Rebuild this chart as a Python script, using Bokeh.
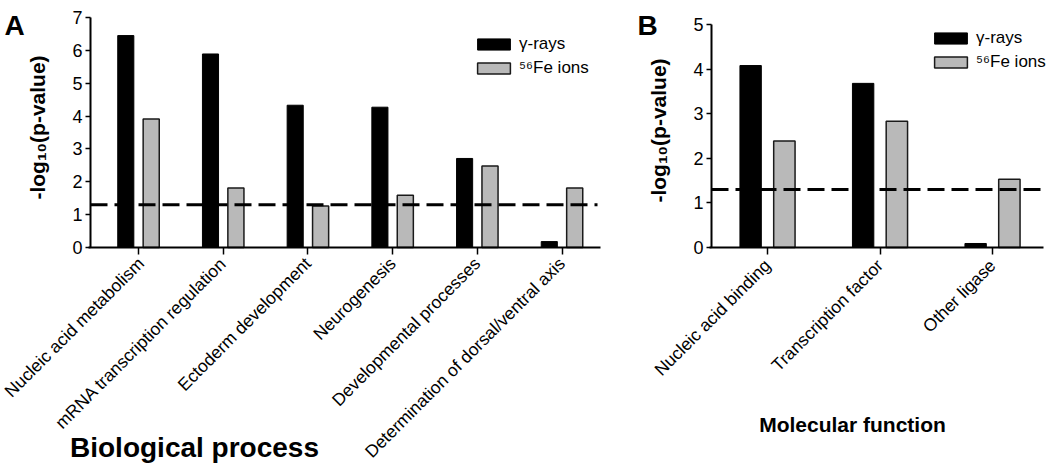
import math
from bokeh.plotting import figure
from bokeh.models import ColumnDataSource, Range1d, FixedTicker, Label, Legend, LegendItem
from bokeh.layouts import row
from bokeh.transform import dodge
from bokeh.embed import file_html
from bokeh.resources import INLINE

# ---------------- data ----------------
bp_categories = ["Nucleic acid metabolism", "mRNA transcription regulation",
                 "Ectoderm development", "Neurogenesis",
                 "Developmental processes", "Determination of dorsal/ventral axis"]
bp_gamma = [6.45, 5.89, 4.33, 4.27, 2.71, 0.18]
bp_fe = [3.91, 1.81, 1.26, 1.59, 2.48, 1.81]

mf_categories = ["Nucleic acid binding", "Transcription factor", "Other ligase"]
mf_gamma = [4.08, 3.68, 0.09]
mf_fe = [2.39, 2.83, 1.53]

series_labels = ["γ-rays", "⁵⁶Fe ions"]
threshold = 1.3          # -log10(0.05)
y_ticks_a = [0, 1, 2, 3, 4, 5, 6, 7]
y_ticks_b = [0, 1, 2, 3, 4, 5]
panel_letters = ["A", "B"]
x_titles = ["Biological process", "Molecular function"]
y_title = "-log₁₀(p-value)"

FONT = "Liberation Sans"
GRAY = "#b9b9b9"
H = 466


def make_panel(cats, gamma, fe, yticks, width, cat0_px, step_px, zero_px, top_px,
               axis_left_px, axis_right_px, legend_loc, letter, letter_px,
               xtitle, xtitle_px, xtitle_size, ytitle_px, tick_font, tick_standoff):
    unit_px = (zero_px - top_px) / (yticks[-1] - yticks[0])

    def X(px):
        return (px - cat0_px) / step_px

    def Y(py):
        return (zero_px - py) / unit_px

    idx = list(range(len(cats)))
    src = ColumnDataSource(dict(x=idx, gamma=gamma, fe=fe))
    p = figure(width=width, height=H, x_range=Range1d(X(0), X(width)),
               y_range=Range1d(Y(H), Y(0)),
               output_backend="svg", toolbar_location=None,
               min_border_left=0, min_border_right=0,
               min_border_top=0, min_border_bottom=0)
    p.outline_line_color = None
    p.grid.visible = False
    p.background_fill_color = "white"
    p.border_fill_color = "white"

    r1 = p.vbar(x=dodge("x", -0.15, range=p.x_range), top="gamma", width=0.19,
                source=src, fill_color="black", line_color="black", line_width=1)
    r2 = p.vbar(x=dodge("x", 0.15, range=p.x_range), top="fe", width=0.19,
                source=src, fill_color=GRAY, line_color="#1a1a1a", line_width=1.5)

    # significance threshold, drawn from the y axis to the end of the x axis
    p.segment(x0=[X(axis_left_px)], x1=[X(axis_right_px - 3)],
              y0=[threshold], y1=[threshold],
              line_color="black", line_width=3, line_dash="17 7")

    # y axis (fixed inside the frame)
    ya = p.yaxis[0]
    ya.fixed_location = X(axis_left_px)
    ya.bounds = (yticks[0], yticks[-1])
    ya.ticker = FixedTicker(ticks=yticks)
    ya.axis_line_width = 2
    ya.major_tick_line_width = 1.5
    ya.major_tick_out = 5
    ya.major_tick_in = 0
    ya.minor_tick_line_color = None
    ya.major_label_standoff = 3
    ya.major_label_text_font = FONT
    ya.major_label_text_font_size = "18px"
    ya.major_label_text_color = "black"
    ya.axis_label = None

    # x axis (fixed at y = 0)
    xa = p.xaxis[0]
    xa.fixed_location = 0
    xa.bounds = (X(axis_left_px - 2), X(axis_right_px))
    xa.ticker = FixedTicker(ticks=idx)
    xa.major_label_overrides = {i: c for i, c in zip(idx, cats)}
    xa.major_label_orientation = math.pi / 4
    xa.axis_line_width = 2
    xa.major_tick_line_width = 1.5
    xa.major_tick_out = 7
    xa.major_tick_in = 0
    xa.minor_tick_line_color = None
    xa.major_label_standoff = tick_standoff
    xa.major_label_text_font = FONT
    xa.major_label_text_font_size = tick_font
    xa.major_label_text_color = "black"
    xa.axis_label = None

    legend = Legend(items=[LegendItem(label=series_labels[0], renderers=[r1]),
                           LegendItem(label=series_labels[1], renderers=[r2])],
                    location=legend_loc, orientation="vertical",
                    border_line_color=None, background_fill_alpha=0,
                    padding=0, margin=0, spacing=4,
                    glyph_width=41, glyph_height=14, label_height=20,
                    label_standoff=5, label_text_font=FONT,
                    label_text_font_size="17px", label_text_color="black")
    p.add_layout(legend, "center")

    # panel letter
    p.add_layout(Label(x=X(letter_px[0]), y=Y(letter_px[1]), text=letter,
                       text_font=FONT, text_font_style="bold",
                       text_font_size="28px", text_color="black",
                       text_align="left", text_baseline="alphabetic"))
    # x title
    p.add_layout(Label(x=X(xtitle_px[0]), y=Y(xtitle_px[1]), text=xtitle,
                       text_font=FONT, text_font_style="bold",
                       text_font_size=xtitle_size, text_color="black",
                       text_align="center", text_baseline="alphabetic"))
    # y title (rotated)
    p.add_layout(Label(x=X(ytitle_px[0]), y=Y(ytitle_px[1]), text=y_title,
                       angle=math.pi / 2, text_font=FONT, text_font_style="bold",
                       text_font_size="21px", text_color="black",
                       text_align="center", text_baseline="middle"))
    return p


pa = make_panel(bp_categories, bp_gamma, bp_fe, y_ticks_a, 628,
                cat0_px=138, step_px=84.7, zero_px=247, top_px=17,
                axis_left_px=90, axis_right_px=600,
                legend_loc=(473, 388), letter=panel_letters[0],
                letter_px=(4, 25), xtitle=x_titles[0], xtitle_px=(194, 447),
                xtitle_size="28px", ytitle_px=(37, 127), tick_font="17.5px",
                tick_standoff=6)
pb = make_panel(mf_categories, mf_gamma, mf_fe, y_ticks_b, 422,
                cat0_px=139, step_px=112.5, zero_px=247, top_px=24,
                axis_left_px=83, axis_right_px=415,
                legend_loc=(302, 394), letter=panel_letters[1],
                letter_px=(9, 25), xtitle=x_titles[1], xtitle_px=(224, 424),
                xtitle_size="21px", ytitle_px=(30, 130), tick_font="17.5px",
                tick_standoff=8)

layout = row(pa, pb, spacing=0)
open("out.html", "w").write(file_html(layout, INLINE))
